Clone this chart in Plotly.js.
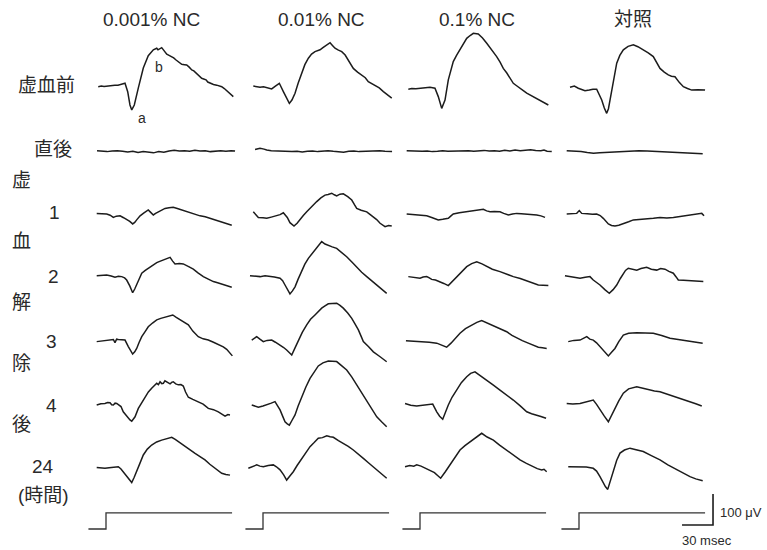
<!DOCTYPE html>
<html>
<head>
<meta charset="utf-8">
<script src="https://cdn.plot.ly/plotly-3.0.1.min.js"></script>
<style>html,body{margin:0;padding:0;background:#fff;}#chart{width:767px;height:550px;}</style>
</head>
<body>
<div id="chart"></div>
<script>
// ---------------- DATA ----------------
const columnLabels = ['0.001% NC', '0.01% NC', '0.1% NC', '対照'];
const rowLabels = ['虚血前', '直後', '1', '2', '3', '4', '24'];
const timeUnitLabel = '(時間)';
const sideWordChars = ['虚', '血', '解', '除', '後'];
const waveLabels = ['a', 'b'];

// time (ms after stimulus onset) and amplitude (µV) of each recording, per column
const preIschemiaMs = [
  [-7.5,-4.5,-1.9,1.5,5.5,8.5,11.6,15,18.4,21,23.2,24.9,27.4,31.3,36.1,40.9,43.5,45.8,49.1,50.3,53.9,56,58.8,61,63.6,65.5,67.8,70.5,73.3,76,78.1,80.5,83,85,87.1,90,92.6,94.5,96.8,98.5,100.7,104,107.2,110,112,114.5,117.1,120,123.2],
  [-9.4,-6,-2.9,0.5,3.6,6,8.4,12,15.8,19.7,22.5,25.5,28,31,34,37.5,40.5,43.9,47,50.3,53,55.2,58,60,62.5,64.9,67,69.7,73,76.2,79.5,82.6,85,87.4,91.5,95.5,99,101.9,105,108.4,112.5,116.5,120.5,124.6],
  [-11.3,-8,-4,0,4,9.7,14.5,17.7,21,24.2,27.4,29.8,32.2,35.5,38.7,42,45.2,48.5,51.6,56.4,60.5,64.6,69.5,74.2,77.5,80.6,84,87.1,90.3,93.5,97,100,103.3,106.5,109.7,113,116.5,120,124.2],
  [-8.7,-4.5,-0.7,3,5.8,10,13.5,17.1,19.5,22,24.5,26.8,28.5,30,31.5,33.2,36.5,39.5,42.9,47.5,52.6,57,62.2,67,71.9,75,78.4,82.5,86.4,89.5,92.9,97,101,105,109.1,115,122]
];
const preIschemiaUV = [
  [1,3,2,4,4,6,6,9,12,-15,-58,-74,-58,-3,61,101,110,120,125,120,127,118,106,102,98,94,87,80,73,72,71,64,55,52,45,36,28,26,23,16,12,8,6,4,1,-5,-13,-21,-31],
  [3,2,-1,1,-1,-4,-6,3,12,-15,-35,-53,-42,-20,12,44,72,93,106,114,116,120,127,132,136,143,135,125,119,114,103,87,75,60,48,39,30,17,11,6,-3,-15,-24,-36],
  [-7,-5,-6,-4,-2,-1,-4,-31,-69,-42,23,55,82,103,120,140,157,166,173,171,158,141,120,98,80,60,45,28,12,4,-6,-12,-20,-26,-33,-38,-45,-50,-58],
  [-1,3,-4,-9,-12,-10,-7,-7,-22,-42,-68,-85,-70,-42,-10,23,77,102,120,131,136,130,120,110,98,80,60,48,39,35,33,15,1,-5,-10,-9,-10]
];

const immediateMs = [
  [-8.7,-4,1,6,11,16,21,26,31,36,41,46,51,56,61,66,71,76,81,86,91,96,101,106,111,116,121,124.9],
  [-7.7,-5,-2.9,1,3.6,8,13,18,23,28,33,38,43,48,53,58,63,68,73,78,83,88,93,98,103,108,113,118,124.9],
  [-12.9,-8,-3,2,7,12,17,22,27,32,37,42,47,52,57,62,67,72,77,82,87,92,97,102,107,112,117,120,123,127.5],
  [-11.9,-4,2,8,14,20,26,32,40,50,58,66,72,80,88,96,104,112,119.7]
];
const immediateUV = [
  [1,0,-2,0,1,-1,-3,-1,-5,-2,-3,-6,-2,-4,0,2,0,1,-1,2,0,1,-2,0,1,-1,1,0],
  [5,8,9,6,3,1,0,-1,0,-2,-1,-3,-1,0,-2,-1,1,-1,-2,-4,-1,0,-2,-1,0,-1,1,-1,-2],
  [1,0,-2,-1,0,-2,-1,1,-1,0,-1,0,1,-1,1,2,0,1,-1,2,0,3,1,2,4,2,1,3,-1,-2],
  [1,0,-2,-5,-7,-6,-5,-3,-2,0,1,0,-1,-2,-4,-6,-7,-8,-9]
];

const hour1Ms = [
  [-9,-5,0.7,4,7.1,10,13.6,17,20,23,25.8,27.8,29.7,33,36.1,38.5,40.9,43,45.8,48,50.6,54,57.1,61,65.1,69,73.3,77,81.3,86,91,96,100.7,105.5,110.4,116,121.7],
  [-9.4,-4.5,0,3.6,8,13.3,16.5,19.7,21.5,23.5,26.1,30,33,35.8,39,42.3,47,52,56,60,63,66.5,69,71.3,74.5,77.7,82,85.9,88.5,90.7,95,100.4,103.5,106.8,110,113.3,118.1,121.5,124.6],
  [-12.9,-6,0,6.5,12,17.7,22,27.4,30,32.2,38,45.2,50,54.9,58,61.3,64.5,67.8,72,77.4,81,85.5,89.5,93.6,98,103.3,108,113,117,121],
  [-11.9,-6,-2.2,0.3,2.6,8,13,17.1,20.5,23.5,26,28.4,31.5,34.8,38.5,42.9,48,52.6,59,65.5,72,78.4,85,91.3,98,104.3,109,113.9,118.8,121]
];
const hour1UV = [
  [2,1,0,-4,-11,-7,-6,-12,-17,-24,-32,-27,-19,-6,2,8,13,6,-3,2,7,11,18,20,22,18,13,9,4,-1,-6,-9,-14,-19,-25,-29,-36],
  [7,-11,-12,-14,-10,-6,-2,4,-3,-11,-28,-39,-30,-17,-5,7,24,40,52,61,63,67,62,58,64,65,56,45,30,18,12,7,-1,-9,-18,-30,-41,-37,-39],
  [0,-2,-3,-6,-12,-19,-17,-14,-6,0,4,7,11,13,12,15,10,7,8,7,2,-3,0,2,1,0,-2,-3,-6,-11],
  [0,1,2,11,2,1,-1,0,-5,-14,-24,-32,-37,-39,-36,-32,-25,-19,-18,-17,-14,-11,-13,-11,-8,-6,-3,0,2,-6]
];

const hour2Ms = [
  [-9,-4,0.7,5,8.7,12,15.2,18,20,23,25.8,27.8,29.7,32,34.6,38,40.9,45,49.1,52,55.5,58.5,62,64.5,66.8,71,74.8,80,84.5,89,94.2,99,103.9,108,112,117,121.7],
  [-12.6,-8,-2.9,2,6.8,11,16.5,19,21.3,24,26.1,28.5,31,34,37.5,40.5,43.9,47,50.3,53.5,56.8,60,63.2,67,71.3,76,81,86,90.7,95.5,100.4,105,110.1,115,119.7],
  [-11.3,-6,0,3,6.5,9,11.3,15,19.4,23,27.4,31.5,35.5,40,45.2,50,54.9,60,64.6,70,77.4,84,90.3,97,103.3,109,114.5,119,124.2],
  [-13.6,-6,1,6,10.6,13.8,17,20.3,25,29.3,33,36.5,40,42.9,45,47.7,52,55.9,60,65.5,70,75.2,79,83.2,87,91.3,94,96.1,101,107.4,114,120.3]
];
const hour2UV = [
  [1,2,3,0,-4,-1,-2,-6,-13,-32,-54,-42,-29,-8,9,18,25,34,43,47,52,55,60,48,39,40,39,30,22,10,-2,-10,-18,-22,-26,-30,-36],
  [1,-1,-2,1,0,-3,-7,-15,-29,-45,-58,-48,-35,-10,19,38,57,70,84,98,111,103,100,94,89,76,62,45,28,12,-2,-15,-29,-42,-56],
  [-2,-4,-7,-3,-2,-6,-11,-13,-18,-24,-31,-17,-2,14,30,40,46,39,30,22,14,5,-2,-8,-15,-21,-29,-30,-31],
  [1,-3,-7,-4,-2,-13,-20,-29,-44,-56,-44,-29,-8,9,18,25,22,19,24,28,22,19,24,22,15,9,-3,-13,-14,-15,-16,-18]
];

const hour3Ms = [
  [-9,-4,0.7,4,7.1,8.7,10.3,11.9,15,18.4,21.6,23.8,25.8,27.8,29.7,32,34.6,38,40.9,45,49.1,53,57.1,61,64.6,68,71.6,75.5,79.7,84,89.3,94,99,104,110.4,113.5,116.8,119.5,122.3],
  [-10.9,-8,-6.1,-3,0.3,4,8.4,12,16.5,20,22.9,25.5,27.8,31,34.2,38,42.3,46,50.3,53.5,56.8,60,63.2,67,71.3,74.5,77.7,82,85.9,89,92.3,95,97.1,102,106.8,113,119.7],
  [-13.6,-8,-2,3.2,9,16.2,21,25.8,30,34,38.7,44,50,55,59.7,65,71,77,83.9,89,93.6,99,104.8,110,114.5,118.5,122.6],
  [-10.4,-5,1,4.5,7.5,10.5,13.8,17,20.3,24.5,28.4,31.5,34.8,38.5,42.9,48,55.9,64,71.9,80,88.1,96,104.3,112,119.7]
];
const hour3UV = [
  [-2,0,3,2,5,-5,6,5,4,3,-18,-30,-42,-35,-24,-5,14,31,46,58,68,73,77,80,84,76,68,60,52,32,14,7,3,-4,-13,-19,-27,-37,-48],
  [3,9,14,6,-2,2,3,-4,-13,-21,-29,-37,-45,-22,3,28,52,70,84,96,106,113,120,121,122,115,106,90,73,55,36,15,-2,-18,-35,-50,-67],
  [1,0,-1,-2,-4,-7,-13,-20,-7,8,25,40,52,60,66,58,48,39,30,18,9,1,-7,-14,-20,-22,-24],
  [-2,2,3,9,14,6,3,-6,-18,-33,-48,-36,-24,-2,19,25,27,26,25,18,9,5,1,-3,-7]
];

const hour4Ms = [
  [-9,-5,-1,1.5,3.9,5.5,7.1,8.8,10.4,12.5,14.5,16.7,19,21.6,23.2,24.9,26.5,28.1,31.3,34.5,37.8,41,44.2,47,49.1,50.7,52.3,54,55.5,57,58.8,60.5,62,63.5,65.1,67.5,70,72.5,74.8,77,79.7,84,89.3,94,99,104,108.7,112,115.2,118,120],
  [-10.9,-7,-4.5,0,3.6,8,11.6,14,16.5,19,21.3,23.5,25.5,28,31,34,37.5,41.5,45.5,49.5,53.5,58,63.2,67,71.3,76,81,86,90.7,95.5,100.4,105,110.1,115,119.7],
  [-14.5,-9,-3.2,3,8,12.3,16.2,19,22,24.5,27.4,31,35.5,40,45.2,49,53.2,58,64.6,71,77.4,84,90.3,97,103.3,108,113,117,122],
  [-11.9,-6,1,7,13.8,17,20.3,24.5,28.4,31.5,34.8,38.5,42.9,48,55.9,62,68.7,73,78.4,85,91.3,99,107.4,113,118.8]
];
const hour4UV = [
  [0,4,5,8,7,1,0,6,5,1,-5,-22,-32,-40,-48,-52,-45,-38,-11,8,27,42,54,62,70,66,75,69,70,78,75,70,68,73,75,68,65,66,61,42,25,18,11,3,-11,-15,-22,-28,-36,-31,-32],
  [0,-3,-7,-3,0,6,11,-2,-16,-36,-54,-61,-65,-50,-32,-3,27,58,86,108,126,136,142,141,140,127,113,90,65,38,11,-13,-38,-55,-70],
  [5,-1,-3,-1,2,3,-22,-36,-46,-24,0,25,48,72,91,102,107,96,81,64,48,32,16,-3,-22,-28,-32,-37,-43],
  [5,3,5,9,16,2,-16,-36,-54,-32,-11,13,38,52,59,54,48,45,43,36,27,19,11,4,-3]
];

const hour24Ms = [
  [-9,-5,-1,3,7,11.9,14.5,16.7,20,22.5,24.9,27.3,29.7,32.8,36.1,40,44.2,49,53.9,58.5,63.6,67,70,73,76.5,81,86.2,91,95.8,100.5,105.5,109,112,116,120],
  [-14.2,-10,-6.1,-3,0.3,5,10,13,16.5,20,22.9,26,29.3,33,37.5,41.5,45.5,49.5,53.5,57.5,61.7,65,68.1,73,77.7,82.5,87.4,92,97.1,102,106.8,113,119.7],
  [-14.5,-10,-6,-3.2,1,5,9.7,14,17,20,24.5,29,33.5,38.7,43.5,48.4,53,56,59.7,65,71,77,83.9,90,96.8,103,109.7,113.5,117.8,120,122.6],
  [-10.4,-5,1,7,13.8,17,20.3,23,25.5,27.8,29.5,31.2,33.2,36.5,39.7,44,49.4,55,62.2,70,78.4,86,94.6,101,107.4,113,119.7]
];
const hour24UV = [
  [2,0,-1,1,2,4,-3,-12,-24,-36,-47,-30,-12,15,42,61,74,84,90,95,99,92,85,76,67,57,47,37,26,12,-1,-10,-17,-21,-23],
  [-1,4,10,6,4,8,10,4,-6,-22,-39,-26,-12,8,31,50,69,82,96,98,104,101,99,88,80,70,58,44,31,17,4,-14,-33],
  [4,8,6,10,6,0,-6,-15,-24,-33,-12,10,35,58,72,85,95,104,112,100,90,74,58,42,26,15,4,-2,-6,-4,-12],
  [4,3,4,3,-1,-10,-28,-45,-60,-69,-50,-28,-6,25,48,58,64,60,53,40,26,10,-6,-17,-28,-35,-41]
];

// stimulus marker (same for every column)
const stimulusMs = [-17, 0, 0, 122];
const stimulusLevel = [0, 0, 52, 52];

// calibration bar
const scaleBarMs = 30;
const scaleBarUV = 100;
const scaleBarLabels = ['100 μV', '30 msec'];

// ---------------- LAYOUT / DRAWING ----------------
const W = 767, H = 550;
const pxPerMs = 31 / 30;
const pxPerUV = 31 / 100;
const colZeroPx = [106, 263, 420, 579];
const rowBasePx = [87, 151, 214, 276, 341, 405, 468, 529];
const rowsMs = [preIschemiaMs, immediateMs, hour1Ms, hour2Ms, hour3Ms, hour4Ms, hour24Ms];
const rowsUV = [preIschemiaUV, immediateUV, hour1UV, hour2UV, hour3UV, hour4UV, hour24UV];

const FONT = 'Liberation Sans, Arial, Noto Sans CJK JP, sans-serif';
const TEXT = '#2a2a2a';
const INK = '#1c1c1c';

const layout = {
  width: W, height: H,
  margin: {l: 0, r: 0, t: 0, b: 0, pad: 0},
  paper_bgcolor: '#ffffff', plot_bgcolor: 'rgba(0,0,0,0)',
  showlegend: false,
  font: {family: FONT, color: TEXT},
  annotations: []
};

const axName = (base, i) => base + (i === 0 ? '' : (i + 1));

colZeroPx.forEach((x0, c) => {
  layout[axName('xaxis', c)] = {
    domain: [(x0 - 25) / W, (x0 + 140) / W],
    range: [-25 / pxPerMs, 140 / pxPerMs],
    visible: false, fixedrange: true, anchor: 'y'
  };
});
rowBasePx.forEach((b, r) => {
  const top = Math.max(0, b - 62), bottom = Math.min(H, b + 34);
  layout[axName('yaxis', r)] = {
    domain: [1 - bottom / H, 1 - top / H],
    range: [-(bottom - b) / pxPerUV, (b - top) / pxPerUV],
    visible: false, fixedrange: true, anchor: 'x'
  };
});

const traces = [];
rowsMs.forEach((rowT, r) => {
  rowT.forEach((t, c) => {
    const v = rowsUV[r][c];
    const n = Math.min(t.length, v.length);
    traces.push({
      x: t.slice(0, n), y: v.slice(0, n),
      xaxis: axName('x', c), yaxis: axName('y', r),
      type: 'scatter', mode: 'lines',
      line: {color: INK, width: 1.5},
      hoverinfo: 'skip'
    });
  });
});
colZeroPx.forEach((x0, c) => {
  traces.push({
    x: stimulusMs, y: stimulusLevel,
    xaxis: axName('x', c), yaxis: 'y8',
    type: 'scatter', mode: 'lines',
    line: {color: '#333333', width: 1.3},
    hoverinfo: 'skip'
  });
});
// calibration bar, drawn in data units on the last column / stimulus row
const barCornerMs = 129.7, barBaseUV = 13;
traces.push({
  x: [barCornerMs - scaleBarMs, barCornerMs, barCornerMs],
  y: [barBaseUV, barBaseUV, barBaseUV + scaleBarUV],
  xaxis: 'x4', yaxis: 'y8', type: 'scatter', mode: 'lines',
  line: {color: INK, width: 1.6}, hoverinfo: 'skip'
});

function note(text, px, py, size, xanchor) {
  layout.annotations.push({
    text: text, xref: 'paper', yref: 'paper',
    x: px / W, y: 1 - py / H,
    xanchor: xanchor || 'center', yanchor: 'middle',
    showarrow: false, font: {size: size, color: TEXT, family: FONT}
  });
}
const headerX = [151, 321, 477, 633];
columnLabels.forEach((t, i) => note(t, headerX[i], 19, 19));
const rowLabelPos = [[46, 85], [53, 149], [54, 213], [53, 276], [51, 341], [51, 405], [43, 466]];
rowLabels.forEach((t, i) => note(t, rowLabelPos[i][0], rowLabelPos[i][1], 19));
note(timeUnitLabel, 43, 495, 19);
const sideY = [180, 242, 302, 363, 424];
sideWordChars.forEach((t, i) => note(t, 21, sideY[i], 19));
note(waveLabels[0], 142, 118, 14);
note(waveLabels[1], 159, 67, 14);
note(scaleBarLabels[0], 718, 512, 13, 'left');
note(scaleBarLabels[1], 707, 540, 13);

Plotly.newPlot('chart', traces, layout, {staticPlot: true, displayModeBar: false});
</script>
</body>
</html>
